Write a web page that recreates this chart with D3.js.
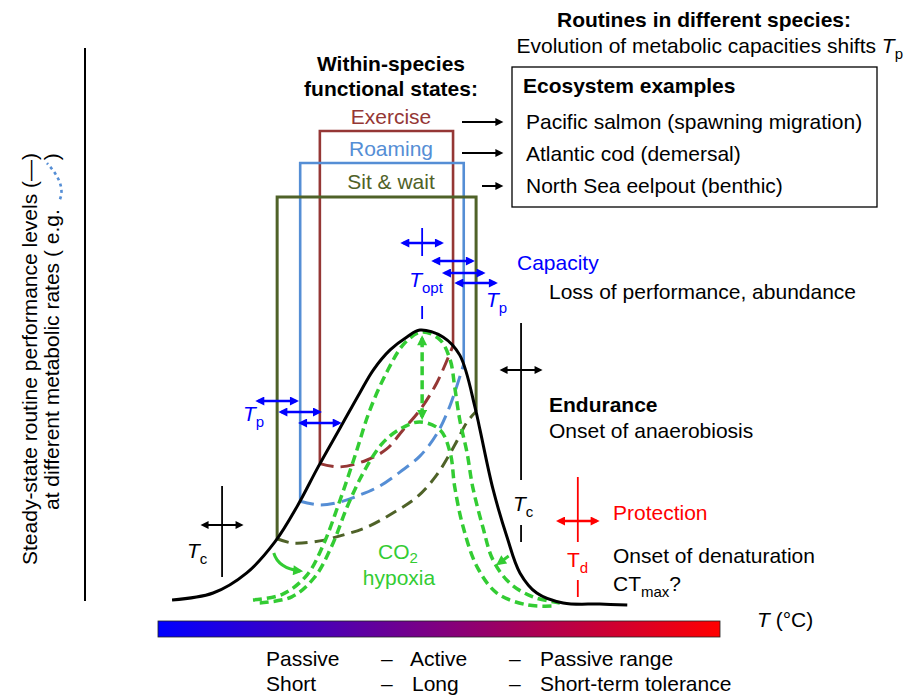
<!DOCTYPE html>
<html><head><meta charset="utf-8">
<script src="https://cdn.jsdelivr.net/npm/d3@7"></script>
<style>body{margin:0;background:#fff}svg{display:block}</style>
</head><body><svg id="c" width="906" height="696"></svg>
<script>
// ---------------- data ----------------
// routine performance curve (temperature units 0..100, performance units 0..100)
const curveT = [2.5, 9.8, 15.8, 20.8, 24.9, 28.5, 32.4, 35.9, 38.3, 41.3, 44.3, 46.6, 50.7, 53.7, 56.4, 57.3, 59.6, 62.1, 64.4, 67.4, 72.1, 78.6, 83.5];
const curveP = [2.2, 4.7, 12.0, 23.2, 36.6, 50.4, 64.5, 77.2, 85.5, 92.8, 97.5, 100, 97.5, 90.9, 72.1, 63.8, 42.4, 25.0, 12.0, 4.7, 1.1, 0.7, 0.4];
// within-species functional states
const states = ["Exercise", "Roaming", "Sit & wait"];
const stateLowT = [28.8, 25.3, 21.2];
const stateHighT = [52.5, 54.4, 56.6];
const stateLevel = [172.1, 160.5, 148.2];
// metabolic-rate curves (interior points, ends sit on the performance curve)
const rateT = [
  [32.4, 37.2, 40.7, 43.6, 46.6, 49.6],
  [28.8, 32.4, 35.9, 39.5, 43.1, 46.6, 49.6, 52.0],
  [24.0, 28.8, 32.4, 37.2, 41.8, 46.1, 49.6, 52.8, 55.0]
];
const rateP = [
  [50.4, 52.9, 56.9, 63.8, 71.0, 80.8],
  [36.6, 37.7, 40.2, 43.5, 48.6, 54.3, 62.3, 72.8],
  [22.8, 23.6, 25.4, 28.6, 33.7, 39.5, 47.5, 58.3, 66.7]
];
// CO2 / hypoxia narrowed curves
const hypoxOuterT = [16.9, 22.2, 26.5, 29.4, 32.4, 35.1, 37.7, 40.9, 43.9, 47.0, 50.2, 52.0, 52.8, 53.7, 55.0, 56.0, 57.8, 59.6, 62.6, 66.7, 71.5];
const hypoxOuterP = [2.2, 4.3, 11.2, 22.1, 38.4, 54.7, 71.0, 85.5, 95.3, 99.3, 96.4, 89.1, 79.3, 67.4, 55.4, 43.1, 28.6, 16.7, 8.3, 3.3, 1.1];
const hypoxInnerT = [18.1, 23.8, 27.9, 31.0, 33.8, 36.8, 40.0, 43.4, 46.6, 50.2, 52.0, 52.8, 54.3, 56.8, 60.3, 65.7, 70.3];
const hypoxInnerP = [1.1, 3.3, 10.5, 22.1, 36.6, 49.3, 59.1, 64.5, 66.7, 63.8, 55.4, 43.1, 28.6, 14.1, 4.7, 0.4, 0];
// thresholds
const tOpt = 47.0, tcLow = 11.4, tcHigh = 64.6, tDenat = 74.7;
const hypoxDrop = [97.0, 68.5];
const examples = ["Pacific salmon (spawning migration)", "Atlantic cod (demersal)", "North Sea eelpout (benthic)"];
const rangeRow1 = ["Passive", "–", "Active", "–", "Passive range"];
const rangeRow2 = ["Short", "–", "Long", "–", "Short-term tolerance"];

// ---------------- styles / layout ----------------
const stateColor = ["#953735", "#558ed5", "#4f6228"];
const GREEN = "#33cc33", BLUE = "#0000ff", RED = "#ff0000";
const rangeX = [266, 381, 410, 509, 540];

const svg = d3.select("#c").attr("font-size", 21)
  .attr("font-family", '"Liberation Sans", Arial, Helvetica, sans-serif');
const x = d3.scaleLinear().domain([0, 100]).range([158, 720]);
const y = d3.scaleLinear().domain([0, 100]).range([606, 330]);

const defs = svg.append("defs");
function marker(id, color, w, h) {
  defs.append("marker").attr("id", id).attr("viewBox", "0 0 10 10")
    .attr("refX", 7).attr("refY", 5).attr("markerUnits", "userSpaceOnUse")
    .attr("markerWidth", w).attr("markerHeight", h).attr("orient", "auto-start-reverse")
    .append("path").attr("d", "M0,0L10,5L0,10z").attr("fill", color);
}
marker("aB", BLUE, 10, 9); marker("aK", "#000", 10, 8); marker("aR", RED, 10, 9); marker("aG", GREEN, 11, 10);
const grad = defs.append("linearGradient").attr("id", "tg");
d3.range(0, 1.01, 0.1).forEach(f => grad.append("stop").attr("offset", f).attr("stop-color", d3.interpolateRgb(BLUE, RED)(f)));

const gStates = svg.append("g"), gRates = svg.append("g"), gGreen = svg.append("g"),
      gCurve = svg.append("g"), gAnno = svg.append("g");

// performance curve
const lineGen = d3.line().x(d => x(d[0])).y(d => y(d[1]));
const perfPts = curveT.map((t, i) => [t, curveP[i]]);
const perfPath = gCurve.append("path").attr("d", lineGen.curve(d3.curveCatmullRom.alpha(0.5))(perfPts))
  .attr("fill", "none").attr("stroke", "#000").attr("stroke-width", 3);
const node = perfPath.node(), LEN = node.getTotalLength();
const samples = d3.range(0, LEN, 0.5).map(l => node.getPointAtLength(l));
function curveAt(T) { const px = x(T); let b = samples[0]; for (const s of samples) if (Math.abs(s.x - px) < Math.abs(b.x - px)) b = s; return y.invert(b.y); }

// functional state windows
states.forEach((s, i) => {
  const lx = x(stateLowT[i]), rx = x(stateHighT[i]), ty = y(stateLevel[i]);
  gStates.append("path")
    .attr("d", `M${lx},${y(curveAt(stateLowT[i]))}V${ty}H${rx}V${y(curveAt(stateHighT[i]))}`)
    .attr("fill", "none").attr("stroke", stateColor[i]).attr("stroke-width", i === 2 ? 3 : 2.6);
  const pts = [[stateLowT[i], curveAt(stateLowT[i])]].concat(rateT[i].map((t, j) => [t, rateP[i][j]]), [[stateHighT[i], curveAt(stateHighT[i])]]);
  gRates.append("path").attr("d", lineGen.curve(d3.curveCatmullRom)(pts))
    .attr("fill", "none").attr("stroke", stateColor[i]).attr("stroke-width", 3)
    .attr("stroke-dasharray", i === 2 ? "12,7" : "14,7");
});

// hypoxia curves
[[hypoxOuterT, hypoxOuterP], [hypoxInnerT, hypoxInnerP]].forEach(([T, P]) => {
  gGreen.append("path").attr("d", lineGen.curve(d3.curveCatmullRom)(T.map((t, i) => [t, P[i]])))
    .attr("fill", "none").attr("stroke", GREEN).attr("stroke-width", 3.5).attr("stroke-dasharray", "9,5");
});
gGreen.append("line").attr("x1", x(tOpt)).attr("x2", x(tOpt)).attr("y1", y(hypoxDrop[0])).attr("y2", y(hypoxDrop[1]))
  .attr("stroke", GREEN).attr("stroke-width", 3.5).attr("stroke-dasharray", "9,5")
  .attr("marker-start", "url(#aG)").attr("marker-end", "url(#aG)");
// shift arrows
gGreen.append("path").attr("d", `M${x(20.6)},${y(19.2)}Q${x(21.4)},${y(13.6)} ${x(25.3)},${y(12.7)}`)
  .attr("fill", "none").attr("stroke", GREEN).attr("stroke-width", 3).attr("marker-end", "url(#aG)");
gGreen.append("line").attr("x1", x(62.4)).attr("y1", y(18.1)).attr("x2", x(60.6)).attr("y2", y(15.4))
  .attr("stroke", GREEN).attr("stroke-width", 3).attr("marker-end", "url(#aG)");

// helpers
function dbl(x1, x2, yy, col, mk, w) {
  gAnno.append("line").attr("x1", x1).attr("x2", x2).attr("y1", yy).attr("y2", yy)
    .attr("stroke", col).attr("stroke-width", w || 2.5)
    .attr("marker-start", `url(#${mk})`).attr("marker-end", `url(#${mk})`);
}
function vline(xx, y1, y2, col, w) {
  gAnno.append("line").attr("x1", xx).attr("x2", xx).attr("y1", y1).attr("y2", y2)
    .attr("stroke", col).attr("stroke-width", w || 1.8);
}
function rich(px, py, parts, attrs, subShift) {
  const sh = subShift || 6;
  const t = gAnno.append("text").attr("x", px).attr("y", py);
  Object.entries(attrs || {}).forEach(([k, v]) => t.attr(k, v));
  let shift = 0;
  parts.forEach(p => {
    const s = t.append("tspan").text(p.t);
    const target = p.sub ? sh : 0;
    if (target !== shift) { s.attr("dy", target - shift); shift = target; }
    if (p.sub) s.attr("font-size", 15);
    if (p.i) s.attr("font-style", "italic");
  });
  return t;
}

// Tp arrows at state edges
const HW = 3.4;
const leftY = [423, 412, 401], rightY = [261, 273, 283];
states.forEach((s, i) => {
  dbl(x(stateLowT[i] - HW), x(stateLowT[i] + HW), leftY[i], BLUE, "aB");
  dbl(x(stateHighT[i] - HW), x(stateHighT[i] + HW), rightY[i], BLUE, "aB");
});
// Topt
vline(x(tOpt), 228, 256, BLUE); vline(x(tOpt), 306, 319, BLUE);
dbl(x(tOpt - HW), x(tOpt + HW), 243, BLUE, "aB");
rich(x(tOpt) - 13, 287, [{ t: "T", i: 1 }, { t: "opt", sub: 1 }], { fill: BLUE });
rich(486, 307, [{ t: "T", i: 1 }, { t: "p", sub: 1 }], { fill: BLUE });
rich(243, 421, [{ t: "T", i: 1 }, { t: "p", sub: 1 }], { fill: BLUE });
// Tc low
vline(x(tcLow), 486, 577, "#000");
dbl(x(tcLow - HW), x(tcLow + HW), 525, "#000", "aK", 2);
rich(187, 558, [{ t: "T", i: 1 }, { t: "c", sub: 1 }], { fill: "#000" });
// Tc high
vline(x(tcHigh), 323, 480, "#000"); vline(x(tcHigh), 525, 542, "#000");
dbl(x(tcHigh - HW), x(tcHigh + HW), 370, "#000", "aK", 2);
rich(513, 511, [{ t: "T", i: 1 }, { t: "c", sub: 1 }], { fill: "#000" });
// Td
vline(x(tDenat), 477, 542, RED); vline(x(tDenat), 580, 597, RED);
dbl(x(tDenat - HW), x(tDenat + HW), 521, RED, "aR");
rich(567, 567, [{ t: "T" }, { t: "d", sub: 1 }], { fill: RED });

// colour bar
gAnno.append("rect").attr("x", x(0)).attr("y", 621).attr("width", x(100) - x(0)).attr("height", 16)
  .attr("fill", "url(#tg)").attr("stroke", "#222").attr("stroke-width", 0.8);
rich(757, 627, [{ t: "T", i: 1 }, { t: " (°C)" }], {});
[rangeRow1, rangeRow2].forEach((row, r) => row.forEach((s, i) => {
  gAnno.append("text").attr("x", rangeX[i] + (r === 1 && i === 2 ? 2 : 0)).attr("y", r ? 691 : 666).text(s);
}));

// y axis
gAnno.append("line").attr("x1", 85).attr("x2", 85).attr("y1", 48).attr("y2", 601).attr("stroke", "#000").attr("stroke-width", 2);
gAnno.append("text").attr("transform", "translate(37,565) rotate(-90)").text("Steady-state routine performance levels (—)");
const l2 = gAnno.append("text").attr("transform", "translate(59,510) rotate(-90)");
const l2a = l2.append("tspan").text("at different metabolic rates ( e.g.");
l2.append("tspan").attr("dx", 49).text(")");
const eY = 510 - l2a.node().getComputedTextLength();
gAnno.append("path").attr("d", `M60,${eY - 10}C64,${eY - 20} 60,${eY - 32} 47,${eY - 46}`)
  .attr("fill", "none").attr("stroke", "#558ed5").attr("stroke-width", 2.6).attr("stroke-dasharray", "3,3.5");

// headings & labels
gAnno.append("text").attr("x", 704).attr("y", 27).attr("text-anchor", "middle").attr("font-weight", "bold").text("Routines in different species:");
rich(903, 53, [{ t: "Evolution of metabolic capacities shifts " }, { t: "T", i: 1 }, { t: "p", sub: 1 }], { "text-anchor": "end" });
gAnno.append("rect").attr("x", 512).attr("y", 67).attr("width", 365).attr("height", 140).attr("fill", "none").attr("stroke", "#000").attr("stroke-width", 1.3);
gAnno.append("text").attr("x", 523).attr("y", 93).attr("font-weight", "bold").text("Ecosystem examples");
const exArrowX = [462, 462, 482], exY = [129, 161, 193], arY = [122, 153, 186];
examples.forEach((e, i) => {
  gAnno.append("text").attr("x", 526).attr("y", exY[i]).text(e);
  gAnno.append("line").attr("x1", exArrowX[i]).attr("x2", 501).attr("y1", arY[i]).attr("y2", arY[i])
    .attr("stroke", "#000").attr("stroke-width", 2).attr("marker-end", "url(#aK)");
});
gAnno.append("text").attr("x", 391).attr("y", 71).attr("text-anchor", "middle").attr("font-weight", "bold").text("Within-species");
gAnno.append("text").attr("x", 391).attr("y", 96).attr("text-anchor", "middle").attr("font-weight", "bold").text("functional states:");
const stY = [124, 156, 189];
states.forEach((s, i) => gAnno.append("text").attr("x", 391).attr("y", stY[i]).attr("text-anchor", "middle").attr("fill", stateColor[i]).text(s));

gAnno.append("text").attr("x", 517).attr("y", 270).attr("fill", BLUE).text("Capacity");
gAnno.append("text").attr("x", 549).attr("y", 299).text("Loss of performance, abundance");
gAnno.append("text").attr("x", 549).attr("y", 412).attr("font-weight", "bold").text("Endurance");
gAnno.append("text").attr("x", 549).attr("y", 438).text("Onset of anaerobiosis");
gAnno.append("text").attr("x", 613).attr("y", 520).attr("fill", RED).text("Protection");
gAnno.append("text").attr("x", 613).attr("y", 563).text("Onset of denaturation");
rich(613, 591, [{ t: "CT" }, { t: "max", sub: 1 }, { t: "?" }], {});
rich(398, 559, [{ t: "CO" }, { t: "2", sub: 1 }], { fill: GREEN, "text-anchor": "middle" }, 4);
gAnno.append("text").attr("x", 399).attr("y", 585).attr("text-anchor", "middle").attr("fill", GREEN).text("hypoxia");
</script></body></html>
